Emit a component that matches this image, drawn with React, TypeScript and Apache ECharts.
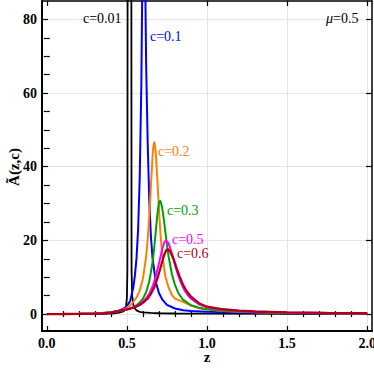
import React, { useEffect, useRef } from "react";
import * as echarts from "echarts";

const FONT = "'Liberation Serif', 'Times New Roman', serif";

// Curve data (z, Ã(z,c))
const zBlack = [0, 0.2, 0.35, 0.42, 0.46, 0.48, 0.49, 0.495, 0.5, 0.503, 0.506, 0.516, 0.526, 0.529, 0.533, 0.54, 0.55, 0.56, 0.58, 0.6, 0.65, 0.7, 0.8, 1.0, 1.5, 2.0];
const aBlack = [0, 0.02, 0.08, 0.2, 0.45, 0.8, 1.4, 2.2, 4.5, 12, 200, 400, 200, 12, 5, 2.6, 1.5, 1.0, 0.6, 0.45, 0.3, 0.22, 0.15, 0.1, 0.05, 0.03];

const zBlue = [0, 0.1, 0.2, 0.3, 0.4, 0.45, 0.48, 0.5, 0.52, 0.54, 0.55, 0.56, 0.57, 0.58, 0.59, 0.595, 0.6, 0.605, 0.61, 0.615, 0.62, 0.63, 0.64, 0.65, 0.66, 0.68, 0.7, 0.72, 0.75, 0.8, 0.85, 0.9, 1.0, 1.2, 1.5, 2.0];
const aBlue = [0, 0.02, 0.06, 0.15, 0.45, 0.9, 1.5, 2.2, 3.5, 7.2, 10.5, 15.2, 23, 37, 62, 85, 115, 130, 115, 88, 68, 46, 30.4, 21, 15.2, 8.8, 5.7, 4.0, 2.5, 1.5, 1.05, 0.85, 0.6, 0.4, 0.25, 0.12];

const zOrange = [0, 0.1, 0.2, 0.3, 0.35, 0.4, 0.45, 0.48, 0.5, 0.52, 0.54, 0.56, 0.58, 0.6, 0.62, 0.63, 0.64, 0.65, 0.66, 0.665, 0.671, 0.68, 0.69, 0.7, 0.71, 0.72, 0.74, 0.76, 0.78, 0.8, 0.85, 0.9, 0.95, 1.0, 1.1, 1.2, 1.3, 1.5, 1.75, 2.0];
const aOrange = [0, 0.03, 0.08, 0.2, 0.3, 0.5, 0.9, 1.3, 1.7, 2.4, 3.3, 4.5, 6.3, 9.6, 15.6, 20.4, 26.9, 34.9, 42.8, 45.5, 46.8, 44.0, 36.6, 28.4, 21.5, 16.4, 10.2, 7.2, 5.3, 4.2, 3.3, 2.3, 1.6, 1.25, 0.85, 0.65, 0.5, 0.35, 0.24, 0.17];

const zGreen = [0, 0.1, 0.2, 0.3, 0.35, 0.4, 0.45, 0.5, 0.52, 0.55, 0.58, 0.6, 0.62, 0.64, 0.66, 0.67, 0.68, 0.69, 0.7, 0.706, 0.71, 0.72, 0.73, 0.74, 0.75, 0.76, 0.78, 0.8, 0.82, 0.85, 0.9, 0.95, 1.0, 1.1, 1.2, 1.3, 1.5, 1.75, 2.0];
const aGreen = [0, 0.02, 0.07, 0.18, 0.3, 0.5, 0.85, 1.25, 1.5, 2.1, 3.1, 4.2, 5.9, 8.9, 14.0, 17.8, 22.3, 26.9, 30.2, 30.8, 30.6, 28.9, 25.9, 22.3, 18.8, 15.7, 11.0, 7.9, 5.8, 3.9, 2.4, 1.7, 1.3, 0.9, 0.7, 0.55, 0.38, 0.26, 0.18];

const zMagenta = [0, 0.1, 0.2, 0.3, 0.35, 0.4, 0.45, 0.5, 0.52, 0.55, 0.58, 0.6, 0.62, 0.64, 0.66, 0.68, 0.7, 0.72, 0.735, 0.744, 0.76, 0.78, 0.8, 0.82, 0.84, 0.86, 0.88, 0.9, 0.95, 1.0, 1.1, 1.2, 1.3, 1.5, 1.75, 2.0];
const aMagenta = [0, 0.02, 0.05, 0.12, 0.25, 0.45, 0.85, 1.3, 1.55, 2.0, 2.7, 3.4, 4.3, 5.6, 7.5, 10.2, 13.7, 17.6, 19.6, 20.0, 19.2, 16.6, 13.4, 10.5, 8.2, 6.4, 5.1, 4.2, 2.6, 1.8, 1.15, 0.85, 0.65, 0.42, 0.28, 0.2];

const zRed = [0, 0.1, 0.2, 0.3, 0.35, 0.4, 0.45, 0.5, 0.52, 0.55, 0.58, 0.61, 0.63, 0.65, 0.67, 0.69, 0.71, 0.73, 0.745, 0.754, 0.77, 0.79, 0.81, 0.83, 0.85, 0.87, 0.9, 0.95, 1.0, 1.1, 1.2, 1.3, 1.5, 1.75, 2.0];
const aRed = [0, 0.01, 0.03, 0.08, 0.2, 0.4, 0.85, 1.25, 1.45, 1.85, 2.45, 3.4, 4.25, 5.5, 7.2, 9.6, 12.6, 15.7, 17.3, 17.6, 17.0, 15.1, 12.5, 10.1, 8.0, 6.4, 4.7, 2.95, 2.0, 1.3, 0.95, 0.7, 0.45, 0.3, 0.22];

const seriesNames = ["c=0.01", "c=0.1", "c=0.2", "c=0.3", "c=0.5", "c=0.6"];
const seriesColors = ["#000000", "#0000ff", "#ff8000", "#00a000", "#ff00ff", "#b00018"];
const seriesWidths = [1.8, 2, 2, 2, 2, 2.3];
const seriesZ = [zBlack, zBlue, zOrange, zGreen, zMagenta, zRed];
const seriesA = [aBlack, aBlue, aOrange, aGreen, aMagenta, aRed];

// Axis ticks
const xMajor = [0, 0.5, 1.0, 1.5, 2.0];
const xMinor = [0.1, 0.2, 0.3, 0.4, 0.6, 0.7, 0.8, 0.9, 1.1, 1.2, 1.3, 1.4, 1.6, 1.7, 1.8, 1.9];
const xGrid = [0.5, 1.0, 1.5, 2.0];
const yMajor = [0, 20, 40, 60, 80];
const yMinor = [5, 10, 15, 25, 30, 35, 45, 50, 55, 65, 70, 75];

const xTitle = "z";
const yTitle = "Ã(z,c)";

// Annotation labels (pixel anchors for text)
const labelPos = [
  [83, 18],
  [150, 36],
  [158, 151],
  [167, 210],
  [172, 239],
  [177, 253],
];

const pts = (z: number[], a: number[]) => z.map((v, i) => [v, a[i]]);

function buildOption() {
  const X_MIN = -0.03, X_MAX = 2.03, Y_MIN = -4.6, Y_MAX = 85;
  const tickStyle = { color: "#000", width: 1.2 };
  const mkX = (position: string, ticks: number[], len: number, extra: any = {}) => ({
    type: "value",
    min: X_MIN,
    max: X_MAX,
    position,
    axisLine: { show: false },
    axisTick: { show: true, inside: true, length: len, customValues: ticks, lineStyle: tickStyle },
    axisLabel: { show: false },
    splitLine: { show: false },
    ...extra,
  });
  const mkY = (position: string, ticks: number[], len: number, extra: any = {}) => ({
    type: "value",
    min: Y_MIN,
    max: Y_MAX,
    position,
    axisLine: { show: false },
    axisTick: { show: true, inside: true, length: len, customValues: ticks, lineStyle: tickStyle },
    axisLabel: { show: false },
    splitLine: { show: false },
    ...extra,
  });
  const labelFont = { fontFamily: FONT, fontSize: 14, fontWeight: "bold", color: "#000" };

  return {
    animation: false,
    backgroundColor: "#fff",
    grid: { left: 42, right: 2, top: 1, bottom: 37, containLabel: false, outerBoundsMode: "none" },
    xAxis: [
      mkX("bottom", xMajor, 5, {
        axisLine: { show: true, onZero: false, lineStyle: { color: "#000", width: 2 } },
        axisLabel: { show: true, customValues: xMajor, margin: 5, formatter: (v: number) => v.toFixed(1), ...labelFont },
      }),
      mkX("bottom", xMinor, 3),
      mkX("top", xMajor, 5, { axisLine: { show: true, onZero: false, lineStyle: { color: "#000", width: 1.5 } } }),
      mkX("top", xMinor, 3),
      mkX("bottom", xGrid, 0, {
        axisTick: { show: false, customValues: xGrid },
        splitLine: { show: true, lineStyle: { color: "#e4e4e4", width: 1 } },
      }),
    ],
    yAxis: [
      mkY("left", yMajor, 6, {
        axisLine: { show: true, onZero: false, lineStyle: { color: "#000", width: 2 } },
        axisLabel: { show: true, customValues: yMajor, margin: 5, ...labelFont },
        splitLine: { show: true, lineStyle: { color: "#e4e4e4", width: 1 } },
      }),
      mkY("left", yMinor, 3),
      mkY("right", yMajor, 6, { axisLine: { show: true, onZero: false, lineStyle: { color: "#000", width: 1.5 } } }),
      mkY("right", yMinor, 3),
    ],
    series: seriesNames.map((name, i) => ({
      name,
      type: "line",
      xAxisIndex: 0,
      yAxisIndex: 0,
      showSymbol: false,
      symbol: "none",
      clip: true,
      smooth: false,
      data: pts(seriesZ[i], seriesA[i]),
      lineStyle: { color: seriesColors[i], width: seriesWidths[i] },
      itemStyle: { color: seriesColors[i] },
      z: 2 + i,
    })),
    graphic: [
      ...seriesNames.map((name, i) => ({
        type: "text",
        x: labelPos[i][0],
        y: labelPos[i][1],
        z: 100,
        style: {
          text: name,
          fill: seriesColors[i],
          fontFamily: FONT,
          fontSize: 14,
          align: "left",
          verticalAlign: "middle",
        },
      })),
      {
        type: "text",
        x: 326,
        y: 18,
        z: 100,
        style: {
          text: "{i|μ}=0.5",
          fill: "#000",
          fontFamily: FONT,
          fontSize: 14,
          align: "left",
          verticalAlign: "middle",
          rich: { i: { fontStyle: "italic", fontFamily: FONT, fontSize: 14, fill: "#000" } },
        },
      },
      {
        type: "text",
        x: 207,
        y: 357,
        z: 100,
        style: {
          text: xTitle,
          fill: "#000",
          fontFamily: FONT,
          fontSize: 15,
          fontWeight: "bold",
          align: "center",
          verticalAlign: "middle",
        },
      },
      {
        type: "text",
        x: 14,
        y: 167,
        rotation: Math.PI / 2,
        z: 100,
        style: {
          text: yTitle,
          fill: "#000",
          fontFamily: FONT,
          fontSize: 15,
          fontWeight: "bold",
          align: "center",
          verticalAlign: "middle",
        },
      },
    ],
  };
}

export default function App() {
  const ref = useRef<HTMLDivElement>(null);
  useEffect(() => {
    if (!ref.current) return;
    const chart = echarts.init(ref.current, null, { renderer: "svg" });
    chart.setOption(buildOption() as any);
    return () => chart.dispose();
  }, []);
  return (
    <div
      ref={ref}
      style={{ position: "absolute", left: 0, top: 0, width: 374, height: 368 }}
    />
  );
}
